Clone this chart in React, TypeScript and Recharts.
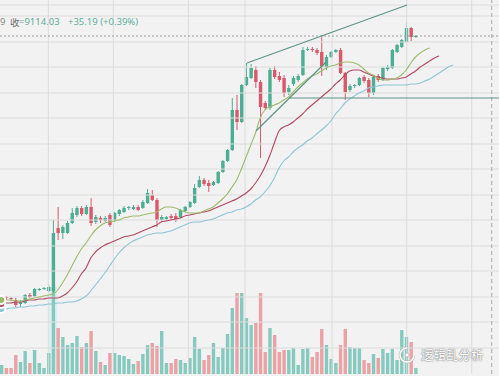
import { ComposedChart, Bar, Line, XAxis, YAxis, ReferenceLine, ReferenceArea, Cell } from 'recharts'

// daily candles, oldest first
const OPEN = [
  6494, 6504, 6494, 6474, 6434, 6444, 6524, 6514, 6574, 6584,
  6564, 6564, 7194, 7144, 7144, 7244, 7324, 7394, 7334, 7404,
  7254, 7294, 7264, 7324, 7274, 7334, 7354, 7394, 7384, 7404,
  7394, 7444, 7524, 7474, 7274, 7284, 7314, 7314, 7304, 7364,
  7404, 7444, 7604, 7674, 7644, 7624, 7644, 7754, 7864, 7974,
  8374, 8254, 8624, 8694, 8774, 8654, 8444, 8394, 8774, 8714,
  8694, 8554, 8634, 8674, 8724, 8974, 8984, 8974, 8954, 8804,
  8904, 8954, 8974, 8744, 8574, 8614, 8624, 8704, 8674, 8544,
  8714, 8674, 8784, 8794, 8954, 9004, 9054, 9194, 9104,
]
const HIGH = [
  6514, 6514, 6504, 6494, 6474, 6534, 6544, 6594, 6594, 6604,
  6624, 7274, 7404, 7224, 7264, 7394, 7414, 7414, 7424, 7494,
  7324, 7314, 7314, 7344, 7354, 7384, 7414, 7414, 7424, 7424,
  7474, 7584, 7574, 7494, 7324, 7314, 7334, 7344, 7384, 7414,
  7464, 7634, 7714, 7694, 7674, 7664, 7764, 7874, 7984, 8494,
  8524, 8634, 8844, 8834, 8814, 8674, 8464, 8794, 8814, 8754,
  8724, 8624, 8714, 8734, 9004, 9004, 9004, 8994, 9114, 8924,
  8964, 8984, 8994, 8754, 8634, 8634, 8704, 8724, 8694, 8714,
  8734, 8804, 8824, 8984, 9034, 9084, 9244, 9204, 9124,
]
const LOW = [
  6474, 6474, 6464, 6404, 6404, 6434, 6494, 6504, 6564, 6574,
  6554, 6544, 7074, 7084, 7134, 7234, 7304, 7314, 7324, 7214,
  7234, 7244, 7254, 7204, 7254, 7314, 7344, 7374, 7374, 7364,
  7384, 7434, 7464, 7204, 7254, 7264, 7284, 7254, 7294, 7354,
  7394, 7434, 7594, 7614, 7554, 7614, 7634, 7744, 7854, 7964,
  8174, 8244, 8614, 8684, 8594, 7894, 8374, 8374, 8684, 8654,
  8504, 8524, 8614, 8654, 8714, 8964, 8954, 8924, 8714, 8774,
  8894, 8944, 8734, 8474, 8554, 8594, 8614, 8644, 8504, 8524,
  8654, 8664, 8764, 8784, 8944, 8994, 9044, 9064, 9094,
]
const CLOSE = [
  6504, 6494, 6484, 6424, 6454, 6524, 6504, 6584, 6584, 6594,
  6604, 7144, 7144, 7204, 7244, 7344, 7394, 7334, 7404, 7244,
  7304, 7274, 7294, 7224, 7344, 7374, 7394, 7404, 7404, 7374,
  7454, 7544, 7474, 7274, 7304, 7304, 7294, 7284, 7374, 7404,
  7454, 7594, 7674, 7634, 7614, 7654, 7754, 7864, 7974, 8374,
  8254, 8624, 8704, 8794, 8654, 8404, 8394, 8774, 8704, 8674,
  8544, 8594, 8694, 8714, 8974, 8984, 8974, 8944, 8804, 8904,
  8954, 8974, 8744, 8554, 8614, 8624, 8694, 8664, 8544, 8704,
  8674, 8794, 8804, 8974, 9024, 9074, 9194, 9104, 9114.03,
]
const VOLUME = [
  9, 6, 6, 19, 12, 23, 11, 24, 11, 6,
  21, 87, 46, 37, 29, 31, 38, 27, 31, 43,
  23, 12, 9, 21, 21, 19, 18, 15, 10, 13,
  20, 29, 31, 28, 43, 11, 11, 15, 14, 11,
  16, 37, 25, 14, 19, 31, 17, 26, 40, 66,
  81, 81, 56, 49, 51, 81, 22, 46, 39, 22,
  24, 24, 26, 9, 25, 26, 17, 22, 45, 29,
  15, 11, 29, 45, 27, 26, 26, 14, 11, 20,
  16, 25, 21, 25, 14, 44, 37, 32, 6,
].map(v => v * 1000)

// alligator lines, already shifted forward (lips 3, teeth 5, jaw 8)
const LIPS = [
  6474, 6474, 6474, 6464, 6464, 6474, 6484, 6494, 6504, 6514,
  6524, 6534, 6574, 6644, 6724, 6814, 6904, 6984, 7044, 7114,
  7174, 7214, 7244, 7254, 7264, 7274, 7294, 7304, 7314, 7314,
  7324, 7334, 7344, 7354, 7384, 7404, 7404, 7394, 7374, 7354,
  7344, 7344, 7344, 7364, 7384, 7404, 7444, 7484, 7534, 7604,
  7674, 7784, 7904, 8024, 8144, 8294, 8374, 8404, 8424, 8444,
  8474, 8504, 8554, 8604, 8644, 8684, 8714, 8734, 8764, 8794,
  8814, 8824, 8844, 8854, 8854, 8844, 8824, 8784, 8744, 8724,
  8694, 8674, 8674, 8684, 8694, 8724, 8774, 8844, 8904, 8944,
  8974, 8994,
]
const TEETH = [
  6434, 6444, 6444, 6454, 6454, 6464, 6474, 6474, 6484, 6484,
  6494, 6494, 6494, 6514, 6544, 6594, 6654, 6734, 6794, 6894,
  6954, 6994, 7024, 7044, 7064, 7084, 7104, 7114, 7124, 7144,
  7164, 7184, 7204, 7224, 7254, 7264, 7274, 7284, 7294, 7314,
  7324, 7334, 7344, 7354, 7364, 7384, 7404, 7424, 7444, 7464,
  7484, 7514, 7544, 7584, 7644, 7714, 7804, 7914, 8044, 8164,
  8204, 8224, 8254, 8294, 8334, 8384, 8424, 8464, 8504, 8544,
  8584, 8634, 8674, 8724, 8764, 8774, 8774, 8754, 8734, 8714,
  8704, 8694, 8684, 8684, 8684, 8694, 8704, 8734, 8764, 8804,
  8834, 8864, 8894, 8914,
]
const JAW = [
  6384, 6384, 6394, 6394, 6404, 6404, 6414, 6414, 6424, 6424,
  6434, 6434, 6444, 6444, 6454, 6454, 6464, 6484, 6514, 6564,
  6624, 6684, 6744, 6814, 6884, 6944, 6994, 7034, 7064, 7084,
  7104, 7124, 7134, 7144, 7144, 7154, 7164, 7184, 7204, 7224,
  7244, 7254, 7254, 7264, 7274, 7284, 7304, 7324, 7344, 7354,
  7374, 7384, 7404, 7434, 7474, 7504, 7554, 7614, 7694, 7794,
  7864, 7904, 7954, 7994, 8024, 8064, 8094, 8134, 8174, 8214,
  8264, 8334, 8384, 8444, 8484, 8514, 8544, 8564, 8594, 8604,
  8614, 8624, 8624, 8624, 8624, 8624, 8624, 8634, 8634, 8644,
  8664, 8684, 8714, 8744, 8774, 8804, 8824,
]

const LAST = 9114.03
const V_GRID = [9.99, 23.79, 39.73, 51.77, 70.26, 86.13, 99.94]
const H_GRID = [9424, 9314, 9054, 8804, 8544, 8294, 8034, 7784, 7524, 7274, 7014, 6764, 6504, 6254, 5994]

const UP = '#4cae92'
const DOWN = '#d9596b'
const UP_VOL = '#86cabf'
const DOWN_VOL = '#eaa2a5'
const TREND = '#5e9488'
const GRID = '#dcdcdc'

const rows = JAW.map((_, i) => ({
  i, o: OPEN[i], h: HIGH[i], l: LOW[i], c: CLOSE[i], vol: VOLUME[i],
  lips: LIPS[i], teeth: TEETH[i], jaw: JAW[i],
}))

function Candle(props: any) {
  const { x, y, width, height, payload } = props
  if (payload == null || payload.o == null) return null
  const { o, h, l, c } = payload
  const top = Math.min(y, y + height)
  const span = Math.abs(height)
  const py = (v: number) => (h === l ? top : top + ((h - v) / (h - l)) * span)
  const col = c >= o ? UP : DOWN
  const cx = x + width / 2
  const bt = py(Math.max(o, c))
  const bb = py(Math.min(o, c))
  return (
    <g>
      <line x1={cx} x2={cx} y1={top} y2={top + span} stroke={col} strokeWidth={1} />
      <rect x={x} y={bt} width={width} height={Math.max(1, bb - bt)} fill={col} />
    </g>
  )
}

export default function App() {
  return (
    <div style={{ position: 'absolute', left: 0, top: 0, width: 499, height: 376, background: '#f2f2f2', overflow: 'hidden', fontFamily: '"Noto Sans", sans-serif' }}>
      <ComposedChart width={499} height={376} data={rows} margin={{ top: 0, right: 0, bottom: 2, left: 0 }}>
        <XAxis xAxisId="c" type="number" dataKey="i" domain={[-0.276, 105.73]} allowDataOverflow hide />
        <XAxis xAxisId="v" type="number" dataKey="i" domain={[-0.276, 105.73]} allowDataOverflow hide />
        <YAxis yAxisId="p" type="number" domain={[5734, 9474]} allowDataOverflow hide />
        <YAxis yAxisId="v" type="number" domain={[0, 374000]} allowDataOverflow hide />

        {V_GRID.map(v => <ReferenceLine key={'gx' + v} xAxisId="c" yAxisId="p" x={v} stroke={GRID} strokeWidth={1} />)}
        {H_GRID.map(v => <ReferenceLine key={'gy' + v} xAxisId="c" yAxisId="p" y={v} stroke={GRID} strokeWidth={1} />)}

        <Bar xAxisId="v" yAxisId="v" dataKey="vol" barSize={3.4} isAnimationActive={false}>
          {rows.map((d, i) => <Cell key={i} fill={d.c >= d.o ? UP_VOL : DOWN_VOL} />)}
        </Bar>
        <ReferenceArea xAxisId="c" yAxisId="p" x1={10.13} x2={11.83} y1={5734} y2={6604} fill="#c9eeee" fillOpacity={0.55} stroke="none" />

        <Bar xAxisId="c" yAxisId="p" dataKey={(d: any) => (d.o == null ? null : [d.l, d.h])} barSize={3.4} isAnimationActive={false}
          shape={(p: any) => <Candle {...p} />} />

        <Line xAxisId="c" yAxisId="p" type="monotone" dataKey="jaw" stroke="#8ec5d4" strokeWidth={1.1} dot={false} isAnimationActive={false} />
        <Line xAxisId="c" yAxisId="p" type="monotone" dataKey="teeth" stroke="#b4475f" strokeWidth={1.1} dot={false} isAnimationActive={false} />
        <Line xAxisId="c" yAxisId="p" type="monotone" dataKey="lips" stroke="#9dbb6c" strokeWidth={1.1} dot={false} isAnimationActive={false} />

        <ReferenceLine xAxisId="c" yAxisId="p" y={LAST} stroke="#9a9a9a" strokeDasharray="2 2" />
        <ReferenceLine xAxisId="c" yAxisId="p" x={104.19} stroke="#a8a8a8" strokeDasharray="4 3" />
        <ReferenceLine xAxisId="c" yAxisId="p" segment={[{ x: 52.2, y: 8844 }, { x: 86.2, y: 9424 }]} stroke={TREND} strokeWidth={1.2} />
        <ReferenceLine xAxisId="c" yAxisId="p" segment={[{ x: 54.1, y: 8164 }, { x: 69, y: 8854 }]} stroke={TREND} strokeWidth={1.2} />
        <ReferenceLine xAxisId="c" yAxisId="p" segment={[{ x: 61.3, y: 8494 }, { x: 105.7, y: 8494 }]} stroke={TREND} strokeWidth={1.2} />
      </ComposedChart>

      <div style={{ position: 'absolute', top: 15, left: 0, width: 499, height: 14, fontSize: 9.5, lineHeight: '14px', whiteSpace: 'nowrap' }}>
        <span style={{ position: 'absolute', left: 0, color: '#8a8a8a' }}>9</span>
        <span style={{ position: 'absolute', left: 10, color: '#6e6e6e', fontFamily: '"Noto Sans CJK SC", sans-serif' }}>收</span>
        <span style={{ position: 'absolute', left: 19, color: '#63ab9b' }}>=9114.03</span>
        <span style={{ position: 'absolute', left: 68, color: '#5fb0a0' }}>+35.19 (+0.39%)</span>
      </div>

      <svg width={18} height={18} style={{ position: 'absolute', left: 398, top: 346 }}>
        <path d="M9 2 A7 7 0 1 0 16 9" fill="none" stroke="#b9b9b9" strokeWidth={2.6} />
        <path d="M9 2 A7 7 0 1 0 16 9" fill="none" stroke="#ffffff" strokeWidth={1.4} />
        <circle cx={9} cy={9} r={2} fill="#ffffff" stroke="#b9b9b9" strokeWidth={0.8} />
      </svg>
      <div style={{ position: 'absolute', left: 421, top: 346, fontSize: 12.5, lineHeight: '18px', color: '#ffffff', fontFamily: '"Noto Sans CJK SC", sans-serif', textShadow: '0 0 1px #8a8a8a, 0 0 1px #8a8a8a, 0 0 2px #9a9a9a', whiteSpace: 'nowrap' }}>
        逻辑乱分析
      </div>
    </div>
  )
}
